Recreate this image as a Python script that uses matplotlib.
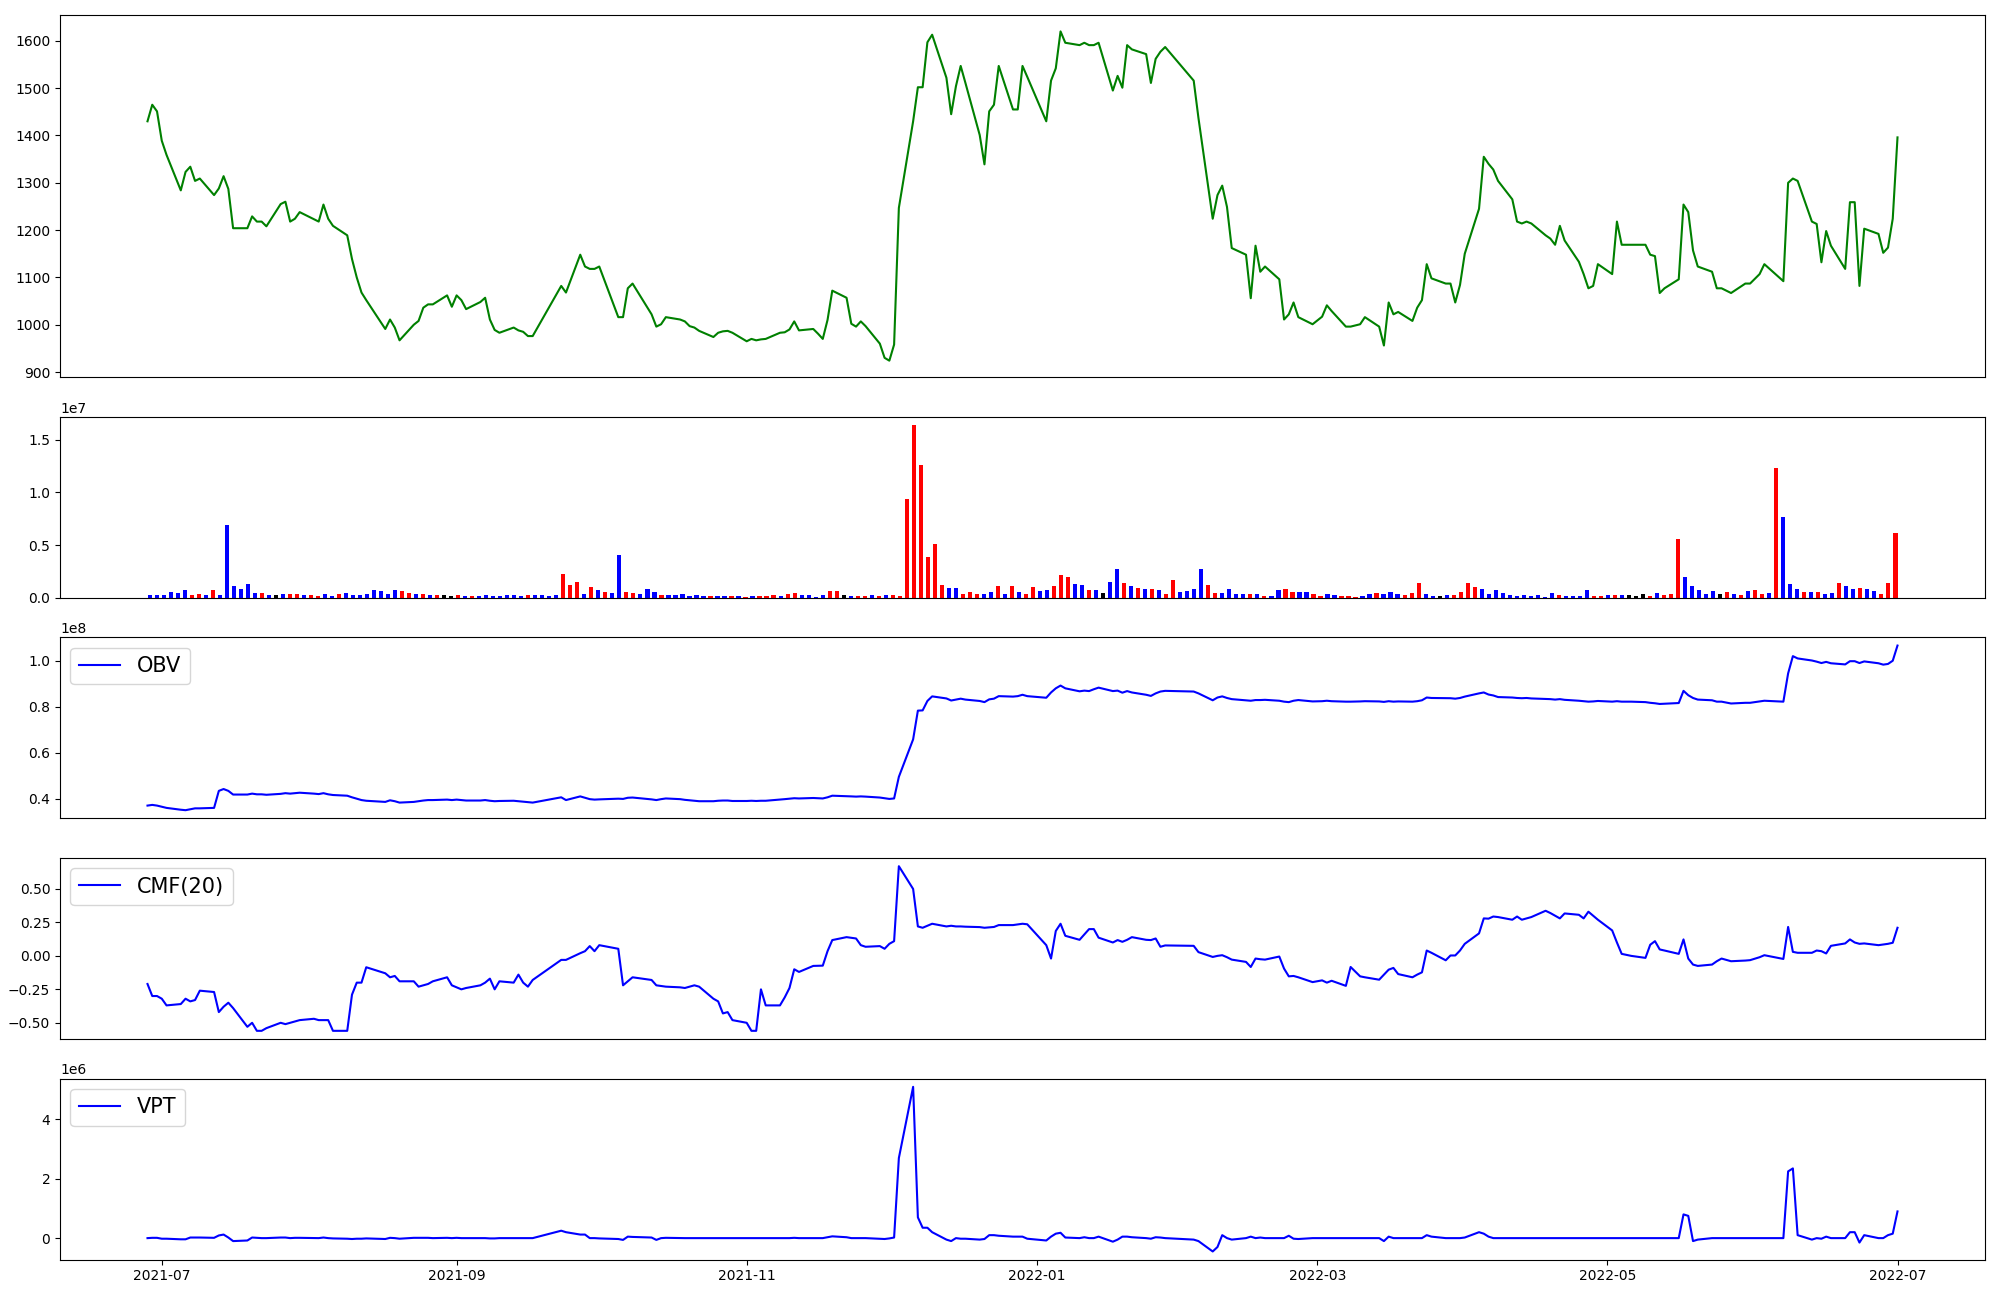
import numpy as np
import pandas as pd
import matplotlib
matplotlib.use('Agg')
import matplotlib.pyplot as plt
import matplotlib.dates as mdates

# KRX trading days, 2021-06-28 .. 2022-07-01
holidays = ['2021-08-16', '2021-09-20', '2021-09-21', '2021-09-22', '2021-10-04',
            '2021-10-11', '2021-12-31', '2022-01-31', '2022-02-01', '2022-02-02',
            '2022-03-01', '2022-03-09', '2022-05-05', '2022-06-01', '2022-06-06']
dates = pd.bdate_range('2021-06-28', '2022-07-01')
dates = dates[~dates.isin(pd.to_datetime(holidays))]

close = [
    1430, 1465, 1451, 1389, 1359, 1284, 1323, 1334, 1304, 1309,
    1274, 1288, 1314, 1287, 1204, 1204, 1229, 1218, 1218, 1208,
    1255, 1260, 1218, 1224, 1238, 1223, 1218, 1254, 1224, 1209,
    1189, 1139, 1100, 1068, 1052, 991, 1011, 994, 967, 1000,
    1008, 1036, 1043, 1043, 1062, 1038, 1062, 1052, 1033, 1048,
    1057, 1011, 989, 983, 994, 988, 985, 976, 976, 1082,
    1068, 1148, 1123, 1118, 1118, 1123, 1016, 1016, 1077, 1087,
    1022, 996, 1001, 1016, 1011, 1007, 997, 994, 987, 974,
    983, 986, 987, 983, 965, 970, 967, 969, 970, 983,
    984, 990, 1007, 988, 991, 981, 970, 1010, 1072, 1057,
    1002, 996, 1007, 997, 960, 930, 924, 958, 1247, 1430,
    1502, 1502, 1597, 1613, 1522, 1445, 1504, 1547, 1511, 1401,
    1339, 1451, 1465, 1547, 1455, 1455, 1547, 1524, 1430, 1516,
    1542, 1620, 1596, 1591, 1596, 1591, 1591, 1596, 1495, 1526,
    1501, 1591, 1582, 1572, 1511, 1562, 1577, 1587, 1516, 1437,
    1224, 1274, 1294, 1249, 1162, 1148, 1056, 1167, 1112, 1123,
    1096, 1011, 1022, 1047, 1016, 1001, 1017, 1041, 1029, 996,
    996, 1001, 1016, 996, 956, 1047, 1022, 1027, 1008, 1036,
    1052, 1128, 1098, 1087, 1087, 1047, 1084, 1150, 1245, 1355,
    1340, 1328, 1304, 1265, 1218, 1214, 1218, 1214, 1189, 1182,
    1169, 1209, 1178, 1133, 1107, 1077, 1082, 1128, 1107, 1218,
    1169, 1169, 1169, 1148, 1145, 1067, 1077, 1096, 1254, 1238,
    1157, 1123, 1112, 1077, 1077, 1072, 1067, 1087, 1087, 1107,
    1128, 1092, 1300, 1309, 1304, 1218, 1213, 1132, 1198, 1167,
    1118, 1259, 1259, 1082, 1203, 1192, 1152, 1163, 1224, 1396,
]

# volume in millions of shares
volume = [
    0.28, 0.28, 0.28, 0.57, 0.47, 0.76, 0.28, 0.38, 0.28, 0.76,
    0.28, 6.90, 1.14, 0.85, 1.32, 0.47, 0.47, 0.28, 0.28, 0.38,
    0.38, 0.38, 0.28, 0.28, 0.19, 0.38, 0.19, 0.38, 0.47, 0.28,
    0.28, 0.38, 0.76, 0.66, 0.38, 0.76, 0.66, 0.47, 0.38, 0.38,
    0.28, 0.28, 0.28, 0.19, 0.28, 0.19, 0.19, 0.19, 0.28, 0.19,
    0.19, 0.28, 0.28, 0.19, 0.28, 0.28, 0.28, 0.19, 0.28, 2.27,
    1.23, 1.51, 0.38, 1.04, 0.76, 0.57, 0.47, 4.07, 0.57, 0.47,
    0.38, 0.85, 0.57, 0.28, 0.28, 0.28, 0.38, 0.19, 0.28, 0.19,
    0.19, 0.19, 0.19, 0.19, 0.19, 0.10, 0.19, 0.19, 0.19, 0.28,
    0.19, 0.38, 0.47, 0.28, 0.28, 0.10, 0.28, 0.66, 0.66, 0.28,
    0.19, 0.19, 0.19, 0.28, 0.19, 0.28, 0.28, 0.19, 9.37, 16.37,
    12.59, 3.88, 5.11, 1.23, 0.95, 0.95, 0.38, 0.57, 0.38, 0.38,
    0.57, 1.14, 0.38, 1.14, 0.57, 0.38, 1.04, 0.66, 0.76, 1.14,
    2.18, 1.99, 1.32, 1.23, 0.76, 0.76, 0.47, 1.51, 2.74, 1.42,
    1.14, 0.95, 0.85, 0.85, 0.76, 0.38, 1.70, 0.57, 0.66, 0.85,
    2.74, 1.23, 0.47, 0.47, 0.85, 0.38, 0.38, 0.38, 0.38, 0.19,
    0.19, 0.76, 0.85, 0.57, 0.57, 0.57, 0.38, 0.19, 0.38, 0.28,
    0.19, 0.19, 0.10, 0.19, 0.38, 0.47, 0.38, 0.57, 0.38, 0.28,
    0.47, 1.42, 0.38, 0.19, 0.19, 0.28, 0.28, 0.57, 1.42, 1.04,
    0.85, 0.38, 0.76, 0.47, 0.28, 0.19, 0.28, 0.19, 0.28, 0.10,
    0.47, 0.28, 0.19, 0.19, 0.19, 0.76, 0.19, 0.19, 0.28, 0.28,
    0.28, 0.28, 0.19, 0.38, 0.19, 0.47, 0.28, 0.38, 5.58, 1.99,
    1.14, 0.76, 0.38, 0.66, 0.38, 0.57, 0.38, 0.28, 0.66, 0.76,
    0.38, 0.47, 12.30, 7.67, 1.32, 0.85, 0.57, 0.57, 0.57, 0.38,
    0.47, 1.42, 1.14, 0.85, 0.95, 0.85, 0.66, 0.38, 1.42, 6.15,
]

# candle colour code: r = close above open, b = below, k = unchanged
candle = list(
    'bbbbbbrrbr' 'bbbbbbrbkb' 'rrbrrbbrbb' 'bbbbbbrrbr' 'brkkrbrbbb'
    'bbbbrbbbbr' 'rrbrbrbbrr' 'bbbrbbbbbb' 'rbbrbrbrrr' 'brrbbbbrrk'
    'brrbrbrrrr' 'rrrrbbrrrb' 'brbrbrrbbr' 'rrbbrbkbbr' 'brbrbrrbbb'
    'brrbbbbrbr' 'bbrrbbrrbb' 'rrrbbrbbbr' 'rrbbkbrrrr' 'bbbbbbbbbb'
    'brbbbbrrbr' 'bkkkrbrrrb' 'bbbbkrbrbr' 'rbrbbbrbrb' 'brbbrbbrrr'
)

# on-balance volume, in units of 1e8
obv = [
    0.370, 0.373, 0.370, 0.365, 0.360, 0.352, 0.350, 0.354, 0.358, 0.358,
    0.360, 0.434, 0.442, 0.434, 0.418, 0.418, 0.422, 0.419, 0.419, 0.417,
    0.421, 0.424, 0.422, 0.424, 0.426, 0.422, 0.420, 0.424, 0.419, 0.416,
    0.413, 0.406, 0.400, 0.394, 0.391, 0.386, 0.393, 0.389, 0.383, 0.386,
    0.389, 0.392, 0.394, 0.394, 0.396, 0.394, 0.396, 0.394, 0.392, 0.392,
    0.394, 0.391, 0.389, 0.390, 0.391, 0.389, 0.387, 0.385, 0.383, 0.406,
    0.394, 0.410, 0.404, 0.398, 0.396, 0.397, 0.400, 0.399, 0.404, 0.405,
    0.397, 0.394, 0.398, 0.401, 0.398, 0.395, 0.393, 0.391, 0.389, 0.389,
    0.391, 0.392, 0.392, 0.390, 0.390, 0.391, 0.390, 0.391, 0.391, 0.396,
    0.398, 0.400, 0.402, 0.401, 0.403, 0.402, 0.401, 0.406, 0.413, 0.411,
    0.410, 0.409, 0.410, 0.409, 0.405, 0.402, 0.399, 0.401, 0.495, 0.658,
    0.783, 0.784, 0.825, 0.845, 0.836, 0.827, 0.831, 0.835, 0.831, 0.825,
    0.820, 0.832, 0.835, 0.846, 0.844, 0.846, 0.852, 0.846, 0.839, 0.862,
    0.880, 0.892, 0.880, 0.867, 0.870, 0.868, 0.876, 0.883, 0.868, 0.870,
    0.861, 0.868, 0.862, 0.852, 0.847, 0.858, 0.866, 0.869, 0.866, 0.858,
    0.828, 0.840, 0.845, 0.838, 0.833, 0.828, 0.826, 0.829, 0.829, 0.830,
    0.826, 0.822, 0.820, 0.826, 0.829, 0.823, 0.824, 0.826, 0.824, 0.822,
    0.822, 0.823, 0.824, 0.823, 0.821, 0.824, 0.822, 0.823, 0.822, 0.824,
    0.828, 0.840, 0.838, 0.837, 0.837, 0.835, 0.838, 0.844, 0.858, 0.862,
    0.853, 0.849, 0.842, 0.840, 0.838, 0.837, 0.838, 0.836, 0.834, 0.833,
    0.831, 0.833, 0.830, 0.826, 0.824, 0.822, 0.823, 0.825, 0.822, 0.824,
    0.822, 0.822, 0.820, 0.817, 0.815, 0.812, 0.813, 0.816, 0.869, 0.850,
    0.838, 0.831, 0.828, 0.822, 0.822, 0.818, 0.814, 0.817, 0.817, 0.823,
    0.826, 0.822, 0.945, 1.020, 1.010, 1.001, 0.996, 0.990, 0.995, 0.989,
    0.984, 0.998, 0.998, 0.990, 0.997, 0.989, 0.983, 0.986, 1.000, 1.066,
]

cmf = [
    -0.21, -0.30, -0.30, -0.32, -0.37, -0.36, -0.32, -0.34, -0.33, -0.26,
    -0.27, -0.42, -0.38, -0.35, -0.39, -0.53, -0.50, -0.56, -0.56, -0.54,
    -0.50, -0.51, -0.50, -0.49, -0.48, -0.47, -0.48, -0.48, -0.48, -0.56,
    -0.56, -0.29, -0.20, -0.20, -0.085, -0.13, -0.16, -0.15, -0.19, -0.19,
    -0.23, -0.22, -0.21, -0.19, -0.16, -0.22, -0.235, -0.25, -0.24, -0.22,
    -0.20, -0.17, -0.25, -0.19, -0.20, -0.14, -0.20, -0.23, -0.18, -0.03,
    -0.03, 0.02, 0.035, 0.073, 0.035, 0.08, 0.053, -0.22, -0.19, -0.16,
    -0.18, -0.22, -0.225, -0.23, -0.235, -0.24, -0.23, -0.22, -0.23, -0.32,
    -0.34, -0.43, -0.42, -0.48, -0.50, -0.56, -0.56, -0.25, -0.37, -0.37,
    -0.31, -0.24, -0.10, -0.12, -0.075, -0.074, -0.073, 0.035, 0.118, 0.14,
    0.135, 0.13, 0.08, 0.068, 0.073, 0.053, 0.09, 0.11, 0.67, 0.50,
    0.22, 0.21, 0.225, 0.24, 0.22, 0.225, 0.22, 0.22, 0.218, 0.215,
    0.21, 0.213, 0.216, 0.23, 0.23, 0.235, 0.24, 0.236, 0.08, -0.02,
    0.186, 0.24, 0.15, 0.12, 0.16, 0.20, 0.20, 0.136, 0.10, 0.118,
    0.105, 0.12, 0.14, 0.12, 0.118, 0.13, 0.068, 0.078, 0.075, 0.028,
    -0.008, 0.0, 0.005, -0.01, -0.028, -0.045, -0.083, -0.02, -0.025, -0.028,
    -0.005, -0.095, -0.153, -0.15, -0.16, -0.196, -0.183, -0.20, -0.186, -0.224,
    -0.083, -0.153, -0.16, -0.178, -0.14, -0.103, -0.09, -0.136, -0.16, -0.14,
    -0.123, 0.04, 0.023, -0.033, 0.003, 0.003, 0.04, 0.09, 0.168, 0.28,
    0.278, 0.294, 0.29, 0.27, 0.294, 0.27, 0.28, 0.29, 0.337, 0.32,
    0.30, 0.28, 0.317, 0.307, 0.28, 0.33, 0.30, 0.27, 0.19, 0.10,
    0.015, 0.0, -0.015, 0.083, 0.11, 0.048, 0.04, 0.015, 0.123, -0.02,
    -0.065, -0.075, -0.065, -0.04, -0.02, -0.03, -0.04, -0.035, -0.032, -0.01,
    0.005, -0.023, 0.216, 0.03, 0.023, 0.023, 0.04, 0.035, 0.018, 0.075,
    0.093, 0.123, 0.10, 0.09, 0.093, 0.08, 0.085, 0.09, 0.098, 0.21,
]

# volume price trend, in units of 1e6
vpt = [
    0.00, 0.01, 0.01, -0.02, -0.02, -0.04, -0.04, 0.02, 0.02, 0.02,
    0.01, 0.09, 0.12, 0.02, -0.10, -0.08, 0.02, 0.01, 0.00, 0.00,
    0.02, 0.02, 0.00, 0.01, 0.01, 0.00, 0.00, 0.02, 0.00, -0.01,
    -0.02, -0.03, -0.02, -0.02, -0.01, -0.03, 0.01, 0.00, -0.02, 0.01,
    0.01, 0.01, 0.01, 0.00, 0.01, 0.00, 0.01, 0.00, 0.00, 0.00,
    0.00, -0.01, -0.01, 0.00, 0.00, 0.00, 0.00, 0.00, 0.00, 0.25,
    0.20, 0.12, 0.12, 0.00, 0.00, -0.01, -0.03, -0.06, 0.05, 0.04,
    0.02, -0.06, 0.00, 0.01, 0.00, 0.00, 0.00, 0.00, 0.00, 0.00,
    0.00, 0.00, 0.00, 0.00, 0.00, 0.00, 0.00, 0.00, 0.00, 0.00,
    0.00, 0.00, 0.01, 0.00, 0.00, 0.00, 0.00, 0.03, 0.06, 0.03,
    0.00, 0.00, 0.00, 0.00, -0.02, -0.03, -0.01, 0.02, 2.70, 5.10,
    0.70, 0.35, 0.35, 0.20, -0.05, -0.10, 0.00, -0.02, -0.02, -0.05,
    -0.03, 0.10, 0.10, 0.08, 0.05, 0.05, 0.05, -0.02, -0.08, 0.05,
    0.15, 0.18, 0.02, 0.00, 0.03, 0.00, 0.00, 0.05, -0.12, -0.05,
    0.05, 0.05, 0.03, 0.00, -0.02, 0.03, 0.02, 0.00, -0.05, -0.10,
    -0.45, -0.30, 0.10, 0.00, -0.05, 0.00, 0.05, 0.00, 0.02, 0.00,
    0.00, 0.00, 0.08, -0.02, -0.03, 0.00, 0.00, 0.00, 0.00, 0.00,
    0.00, 0.00, 0.00, 0.00, -0.10, 0.05, 0.00, 0.00, 0.00, 0.00,
    0.00, 0.10, 0.05, 0.00, 0.00, 0.00, 0.00, 0.02, 0.20, 0.15,
    0.05, 0.00, 0.00, 0.00, 0.00, 0.00, 0.00, 0.00, 0.00, 0.00,
    0.00, 0.00, 0.00, 0.00, 0.00, 0.00, 0.00, 0.00, 0.00, 0.00,
    0.00, 0.00, 0.00, 0.00, 0.00, 0.00, 0.00, 0.00, 0.80, 0.75,
    -0.10, -0.05, 0.00, 0.00, 0.00, 0.00, 0.00, 0.00, 0.00, 0.00,
    0.00, 0.00, 2.25, 2.35, 0.10, -0.05, 0.00, -0.02, 0.05, 0.00,
    0.00, 0.20, 0.20, -0.15, 0.10, 0.00, 0.00, 0.10, 0.15, 0.90,
]

colour = {'r': 'red', 'b': 'blue', 'k': 'black'}
bar_colors = [colour[c] for c in candle]

fig = plt.figure(figsize=(20, 13), dpi=100)
gs = fig.add_gridspec(5, 1, height_ratios=[2, 1, 1, 1, 1],
                      left=0.03, right=0.9925, top=0.9885, bottom=0.031, hspace=0.182)

ax1 = fig.add_subplot(gs[0])
ax1.plot(dates, close, color='green')
ax1.set_xticks([])

# volume bars are drawn against the row number, not the date
ax2 = fig.add_subplot(gs[1])
ax2.bar(np.arange(len(volume)), np.array(volume) * 1e6, width=0.6, color=bar_colors)
ax2.set_xticks([])

ax3 = fig.add_subplot(gs[2])
ax3.plot(dates, np.array(obv) * 1e8, color='blue', label='OBV')
ax3.legend(loc='upper left', fontsize=15)
ax3.set_xticks([])

ax4 = fig.add_subplot(gs[3])
ax4.plot(dates, cmf, color='blue', label='CMF(20)')
ax4.legend(loc='upper left', fontsize=15)
ax4.set_xticks([])

ax5 = fig.add_subplot(gs[4])
ax5.plot(dates, np.array(vpt) * 1e6, color='blue', label='VPT')
ax5.legend(loc='upper left', fontsize=15)
ax5.xaxis.set_major_locator(mdates.MonthLocator(bymonth=[1, 3, 5, 7, 9, 11]))
ax5.xaxis.set_major_formatter(mdates.DateFormatter('%Y-%m'))

plt.savefig('out.png')
